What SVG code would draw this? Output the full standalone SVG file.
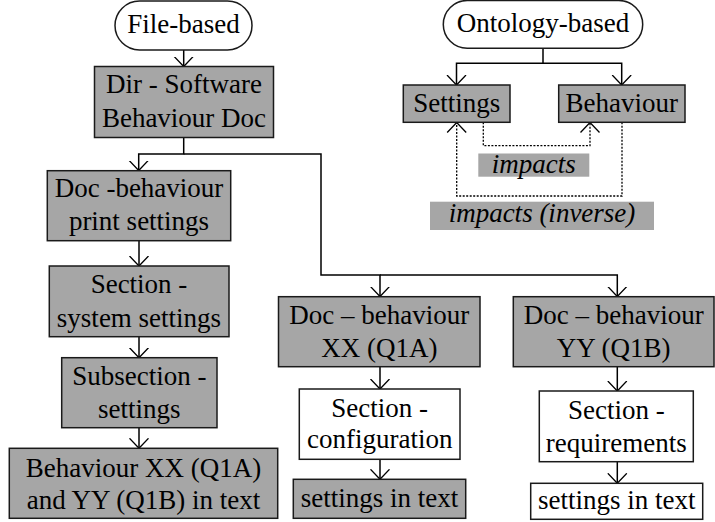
<svg xmlns="http://www.w3.org/2000/svg" width="715" height="522" viewBox="0 0 715 522">
<style>
text{font-family:'Liberation Serif',Tinos,'Times New Roman','DejaVu Serif',serif;font-size:27px;fill:#000;text-anchor:middle}
.g{fill:#a6a6a6;stroke:#1a1a1a;stroke-width:1.5}
.w{fill:#fff;stroke:#1a1a1a;stroke-width:1.5}
.lbl{fill:#a6a6a6;stroke:none}
.c{fill:none;stroke:#000;stroke-width:1.5}
.d{fill:none;stroke:#000;stroke-width:1.3;stroke-dasharray:2 1.5}
.it{font-style:italic}
</style>
<defs>
<marker id="a" markerUnits="userSpaceOnUse" viewBox="0 -11 11 22" refX="10" refY="0" markerWidth="11" markerHeight="22" orient="auto">
<path d="M0,-9.5 L10,0 L0,9.5" fill="none" stroke="#000" stroke-width="1.3"/>
</marker>
</defs>
<g id="connectors">
<path class="c" d="M183.7,50 V66.5" marker-end="url(#a)"/>
<path class="c" d="M183.7,137.5 V154 H138.7 V170.5" marker-end="url(#a)"/>
<path class="c" d="M183.7,154 H321 V275 H380 V296.5" marker-end="url(#a)"/>
<path class="c" d="M380,275 H617.3 V296.5" marker-end="url(#a)"/>
<path class="c" d="M139,240.7 V266" marker-end="url(#a)"/>
<path class="c" d="M139,336.7 V357.7" marker-end="url(#a)"/>
<path class="c" d="M139,427.7 V448.3" marker-end="url(#a)"/>
<path class="c" d="M380,366.7 V389" marker-end="url(#a)"/>
<path class="c" d="M380,459.3 V479.3" marker-end="url(#a)"/>
<path class="c" d="M617.3,366.7 V391" marker-end="url(#a)"/>
<path class="c" d="M617.3,461.7 V483.3" marker-end="url(#a)"/>
<path class="c" d="M543,48.3 V63.3 H456.5 V85" marker-end="url(#a)"/>
<path class="c" d="M543,63.3 H621.7 V85" marker-end="url(#a)"/>
<path class="d" d="M483.3,122.3 V145.7 H590 V122.5" marker-end="url(#a)"/>
<path class="d" d="M622,122.3 V196 H456.7 V122.5" marker-end="url(#a)"/>
</g>
<g id="file-based">
<rect class="w" x="115" y="1" width="137" height="49" rx="24.5"/>
<text x="183.5" y="33">File-based</text>
</g>
<g id="dir-software">
<rect class="g" x="94.5" y="66.5" width="179" height="71"/>
<text x="184" y="93.3">Dir - Software</text>
<text x="184" y="126.7">Behaviour Doc</text>
</g>
<g id="doc-print">
<rect class="g" x="47.3" y="170.7" width="183.4" height="70"/>
<text x="139" y="196.7">Doc -behaviour</text>
<text x="139" y="230">print settings</text>
</g>
<g id="section-system">
<rect class="g" x="49.3" y="266" width="179.7" height="70.7"/>
<text x="139" y="293.3">Section -</text>
<text x="139" y="326.7">system settings</text>
</g>
<g id="subsection">
<rect class="g" x="61.7" y="357.7" width="155.3" height="70"/>
<text x="139.3" y="385">Subsection -</text>
<text x="139.3" y="418.3">settings</text>
</g>
<g id="behaviour-text">
<rect class="g" x="9.3" y="448.3" width="268.4" height="70"/>
<text x="143.5" y="476.7">Behaviour XX (Q1A)</text>
<text x="143.5" y="509.3">and YY (Q1B) in text</text>
</g>
<g id="doc-xx">
<rect class="g" x="278.5" y="296.7" width="201.5" height="70"/>
<text x="379.3" y="324">Doc – behaviour</text>
<text x="379.3" y="356.7">XX (Q1A)</text>
</g>
<g id="doc-yy">
<rect class="g" x="513.3" y="296.7" width="200.7" height="70"/>
<text x="613.7" y="324">Doc – behaviour</text>
<text x="613.7" y="356.7">YY (Q1B)</text>
</g>
<g id="section-config">
<rect class="w" x="299.3" y="389" width="160.7" height="70.3"/>
<text x="379.7" y="416.7">Section -</text>
<text x="379.7" y="448.3">configuration</text>
</g>
<g id="settings-text-1">
<rect class="g" x="293.3" y="479.3" width="172.4" height="39"/>
<text x="379.5" y="506.7">settings in text</text>
</g>
<g id="section-req">
<rect class="w" x="539.3" y="391" width="154" height="70.7"/>
<text x="616.3" y="419.3">Section -</text>
<text x="616.3" y="451.7">requirements</text>
</g>
<g id="settings-text-2">
<rect class="w" x="530.7" y="483.3" width="172" height="36"/>
<text x="616.7" y="509.3">settings in text</text>
</g>
<g id="ontology-based">
<rect class="w" x="443.3" y="0.5" width="199.4" height="47.8" rx="23.9"/>
<text x="543" y="31.7">Ontology-based</text>
</g>
<g id="settings">
<rect class="g" x="403.3" y="85" width="106.7" height="37.3"/>
<text x="456.7" y="111.7">Settings</text>
</g>
<g id="behaviour">
<rect class="g" x="558.7" y="85" width="126.3" height="37.3"/>
<text x="621.8" y="111.7">Behaviour</text>
</g>
<g id="label-impacts">
<rect class="lbl" x="478.3" y="153.5" width="111" height="23.2"/>
<text class="it" x="533.8" y="173">impacts</text>
</g>
<g id="label-impacts-inverse">
<rect class="lbl" x="430" y="201.7" width="224" height="28.3"/>
<text class="it" x="542" y="221.7">impacts (inverse)</text>
</g>
</svg>
